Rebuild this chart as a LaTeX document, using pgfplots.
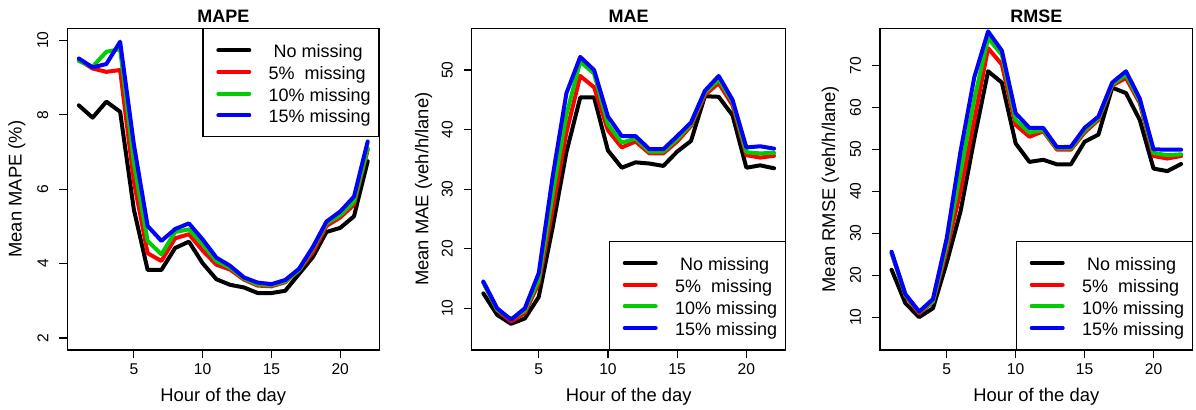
\documentclass[border=0pt]{standalone}
\usepackage{fontspec}
\setmainfont{Liberation Sans}
\usepackage{pgfplots}
\usepackage{pgfplotstable}
\pgfplotsset{compat=1.18}

\definecolor{rgreen}{RGB}{0,205,0}

% Mean error by hour of the day for increasing shares of missing data
\pgfplotstableread{
h  none  p5    p10   p15
1  8.25  9.47  9.44  9.51
2  7.92  9.24  9.29  9.27
3  8.35  9.15  9.69  9.36
4  8.08  9.20  9.76  9.96
5  5.45  6.20  6.70  7.20
6  3.83  4.28  4.61  5.01
7  3.83  4.07  4.25  4.61
8  4.42  4.68  4.85  4.93
9  4.59  4.79  4.92  5.08
10 4.01  4.35  4.52  4.65
11 3.58  3.97  4.07  4.16
12 3.43  3.84  3.89  3.94
13 3.36  3.57  3.60  3.63
14 3.21  3.41  3.44  3.49
15 3.21  3.39  3.42  3.45
16 3.27  3.50  3.52  3.56
17 3.72  3.82  3.83  3.86
18 4.17  4.30  4.40  4.44
19 4.85  5.01  5.08  5.13
20 4.96  5.24  5.30  5.40
21 5.27  5.58  5.66  5.80
22 6.75  7.06  7.10  7.28
}\mapetab

\pgfplotstableread{
h  none  p5    p10   p15
1  12.5  14.3  14.3  14.5
2  8.9   9.7   9.8   10.0
3  7.4   7.8   8.2   8.1
4  8.3   9.2   9.6   10.0
5  11.9  14.2  14.8  15.9
6  23.5  26.5  29.0  32.0
7  36.2  39.5  42.5  46.1
8  45.4  49.0  51.4  52.2
9  45.4  47.1  49.4  50.0
10 36.5  39.9  40.9  42.2
11 33.6  37.0  37.8  38.9
12 34.5  38.0  38.5  38.9
13 34.3  36.0  36.3  36.7
14 33.9  36.0  36.3  36.7
15 36.3  38.0  38.4  38.9
16 38.1  40.6  40.9  41.2
17 45.6  45.8  46.2  46.5
18 45.5  47.8  48.4  49.0
19 42.4  44.1  44.7  45.0
20 33.6  35.7  36.2  37.0
21 34.0  35.3  36.0  37.2
22 33.5  35.6  36.1  36.8
}\maetab

\pgfplotstableread{
h  none  p5    p10   p15
1  21.3  25.3  25.4  25.6
2  13.3  15.1  15.3  15.5
3  10.0  10.9  11.2  11.3
4  12.1  13.6  13.8  14.3
5  23.0  26.0  27.3  28.8
6  35.2  40.0  44.5  49.5
7  52.5  57.0  62.0  67.2
8  68.6  74.1  76.5  78.1
9  65.9  70.2  72.5  73.5
10 51.4  55.8  57.0  58.6
11 47.0  53.0  54.0  55.1
12 47.5  54.3  54.6  55.1
13 46.4  49.9  50.2  50.5
14 46.4  49.9  50.2  50.6
15 51.8  54.0  54.5  55.1
16 53.5  57.0  57.4  57.8
17 64.7  65.2  65.5  65.9
18 63.4  67.0  67.8  68.6
19 57.0  61.0  61.5  62.1
20 45.4  48.4  49.1  50.0
21 44.8  47.8  48.6  49.9
22 46.5  48.4  48.8  49.9
}\rmsetab

\pgfplotsset{
  hourpanel/.style={
    scale only axis,
    height=160.85pt,
    xmin=0.16, xmax=22.84,
    xtick={5,10,15,20},
    tick pos=left,
    tick align=outside,
    major tick length=4pt,
    tick style={black, line width=0.6pt},
    axis line style={line width=0.6pt},
    /pgf/number format/assume math mode=true,
    tick label style={font=\fontsize{7.8}{9}\selectfont, inner sep=0pt},
    xticklabel style={anchor=north},
    yticklabel style={rotate=90, anchor=south},
    xticklabel shift=2.5pt,
    yticklabel shift=5.3pt,
    xlabel={Hour of the day},
    label style={font=\fontsize{9.2}{11}\selectfont},
    xlabel style={at={(axis description cs:0.5,-0.1616)}, anchor=base},
    ylabel style={anchor=base},
    every axis title shift=0pt,
    title style={at={(axis description cs:0.5,1)}, font=\bfseries\fontsize{9}{11}\selectfont,
      inner sep=0pt, anchor=base, yshift=2.8pt},
    legend cell align=left,
    legend style={draw=black, line width=0.6pt, inner xsep=4pt, inner ysep=6.45pt,
      font=\fontsize{9}{11}\selectfont, row sep=2.33pt,
      nodes={inner sep=0pt, text height=8.1pt, text depth=0.4pt},
      /tikz/every odd column/.append style={column sep=7.67pt}},
    legend image code/.code={\path (2.2pt,0pt) (21.35pt,0pt); \draw[##1] (4.85pt,0pt) -- (20.35pt,0pt);},
    every axis plot/.append style={line width=2pt, line join=round, line cap=round, mark=none},
  }
}

\newcommand{\fourlines}[1]{%
  \addplot[black] table[x=h, y=none] {#1};
  \addlegendentry{\ No missing}
  \addplot[red] table[x=h, y=p5] {#1};
  \addlegendentry{5\%\ \ missing}
  \addplot[rgreen] table[x=h, y=p10] {#1};
  \addlegendentry{10\% missing}
  \addplot[blue] table[x=h, y=p15] {#1};
  \addlegendentry{15\% missing}
}

\begin{document}
\begin{tikzpicture}
\useasboundingbox (0pt,0pt) rectangle (598pt,204.5pt);

\begin{axis}[hourpanel,
  at={(33.65pt,29.5pt)}, anchor=south west, width=156pt,
  ymin=1.68, ymax=10.32, ytick={2,4,6,8,10},
  title={MAPE}, ylabel={Mean MAPE (\%)},
  ylabel style={at={(axis description cs:-0.1462,0.5)}},
  legend style={at={(1,1)}, anchor=north east}]
\fourlines{\mapetab}
\end{axis}

\begin{axis}[hourpanel,
  at={(235.85pt,29.5pt)}, anchor=south west, width=157pt,
  ymin=3, ymax=57, ytick={10,20,30,40,50},
  title={MAE}, ylabel={Mean MAE (veh/h/lane)},
  ylabel style={at={(axis description cs:-0.1382,0.5)}},
  legend style={at={(1,0)}, anchor=south east}]
\fourlines{\maetab}
\end{axis}

\begin{axis}[hourpanel,
  at={(440pt,29.5pt)}, anchor=south west, width=156.35pt,
  ymin=2.16, ymax=78.84, ytick={10,20,30,40,50,60,70},
  title={RMSE}, ylabel={Mean RMSE (veh/h/lane)},
  ylabel style={at={(axis description cs:-0.1439,0.5)}},
  legend style={at={(1,0)}, anchor=south east}]
\fourlines{\rmsetab}
\end{axis}
\end{tikzpicture}
\end{document}
